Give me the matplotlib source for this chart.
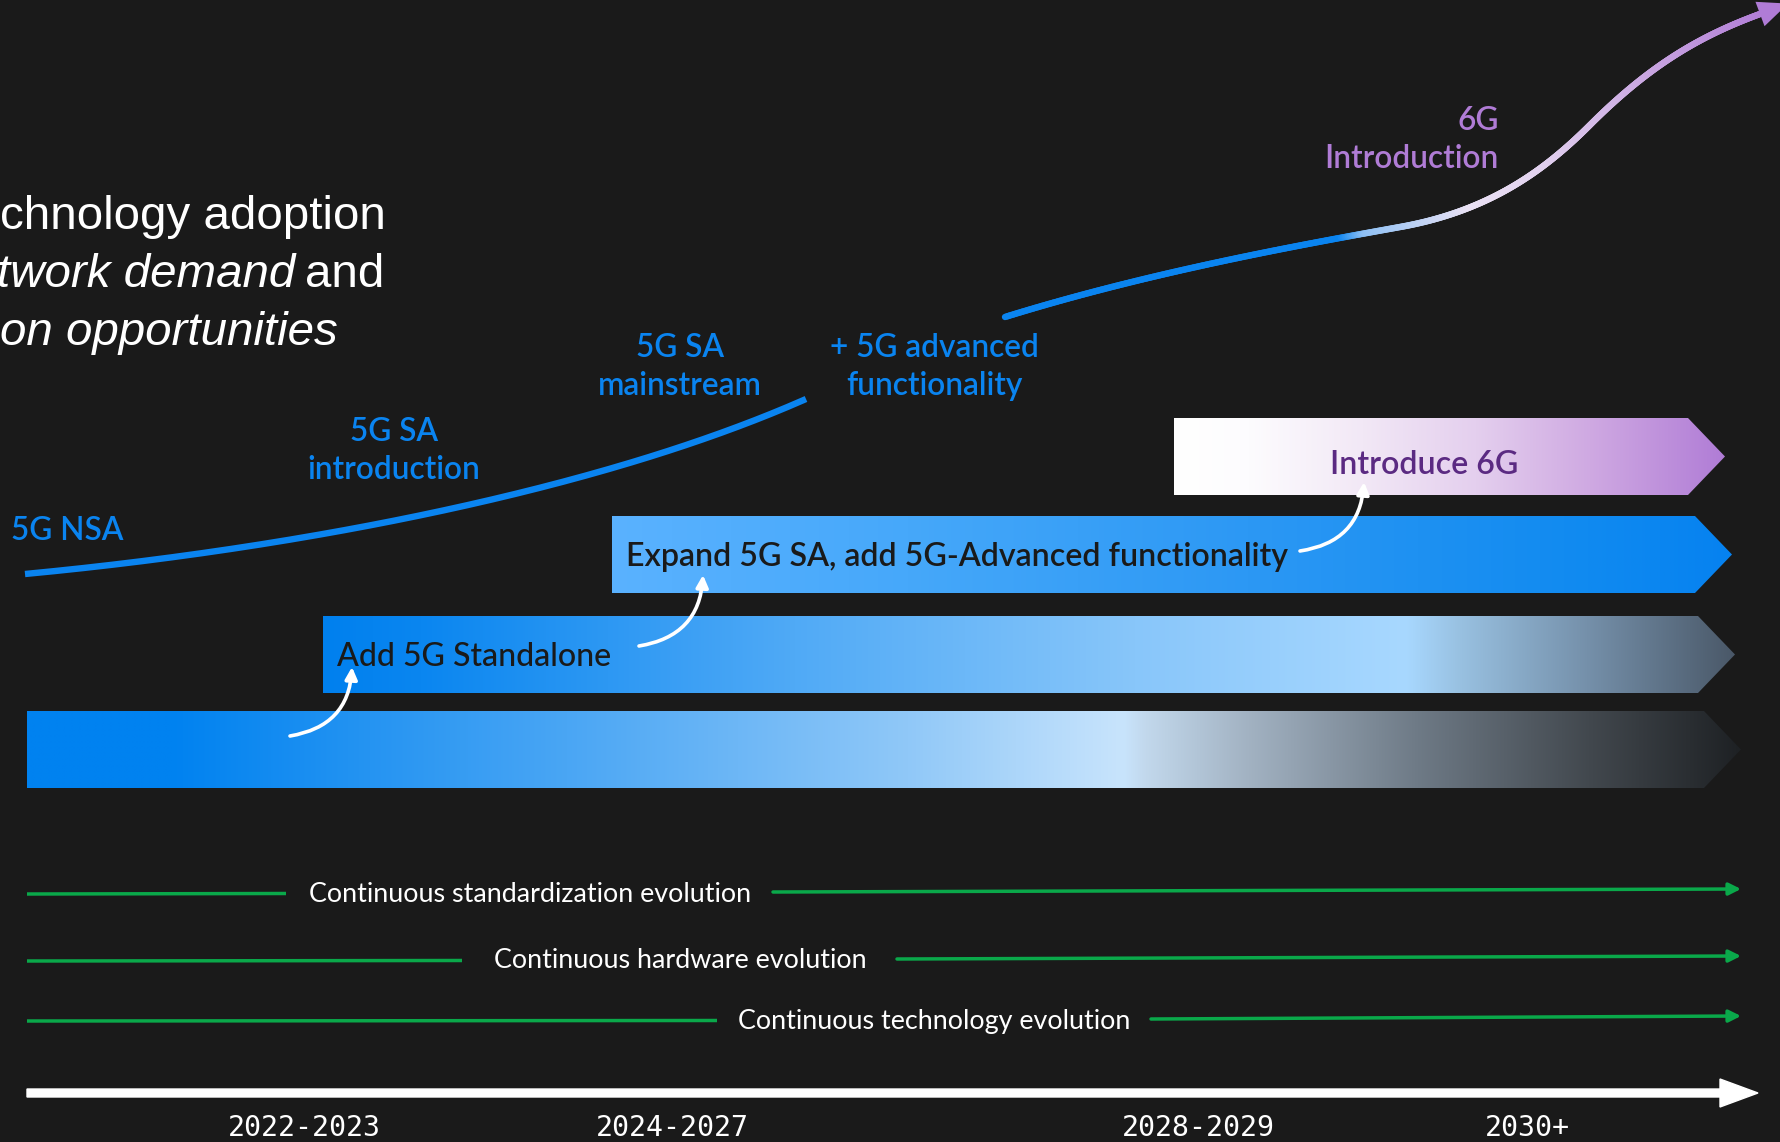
import matplotlib
matplotlib.use("Agg")
import matplotlib.pyplot as plt
import numpy as np
from matplotlib.patches import Polygon, FancyArrowPatch, FancyArrow
from matplotlib.collections import LineCollection
from matplotlib.colors import to_rgb
from matplotlib.bezier import BezierSegment

# ---------------- data ----------------
years = ["2022-2023", "2024-2027", "2028-2029", "2030+"]
year_x = [304, 672, 1198, 1527]

bar_labels = ["", "Add 5G Standalone", "Expand 5G SA, add 5G-Advanced functionality", "Introduce 6G"]
bar_start = [27, 323, 612, 1174]
bar_end = [1704, 1698, 1695, 1688]
bar_y = [749.5, 654.5, 554.5, 456.5]
bar_label_colors = ["#1a1a1a", "#1a1a1a", "#1a1a1a", "#5b2a82"]

# gradient stops (fraction along bar, colour)
bar_gradients = [
    [(0, "#0082f0"), (0.084, "#0082f0"), (0.315, "#4aa6f4"), (0.514, "#90c8f8"), (0.640, "#c8e4fc"),
     (0.653, "#c2d8ec"), (0.713, "#a2b2c2"), (0.812, "#6e7a86"), (0.912, "#42484e"), (1.0, "#1e2124")],
    [(0, "#0080ee"), (0.069, "#0a86f0"), (0.334, "#50aaf6"), (0.575, "#88c6fa"), (0.767, "#a8d8ff"),
     (0.807, "#98c0e0"), (0.896, "#7590aa"), (1.0, "#4a5868")],
    [(0, "#5ab2ff"), (0.264, "#46a8fa"), (0.568, "#2c98f4"), (0.872, "#108af0"), (1.0, "#0682f0")],
    [(0, "#ffffff"), (0.136, "#fdfcfe"), (0.342, "#f2e8f6"), (0.548, "#e4cfee"), (0.755, "#cfa9e2"), (1.0, "#b07cd6")],
]

# curved white arrows between bars (start, end)
hop_start = [(290, 736), (639, 646), (1300, 551)]
hop_end = [(352, 667), (703, 575), (1364, 482)]

evolution_labels = ["Continuous standardization evolution", "Continuous hardware evolution",
                    "Continuous technology evolution"]
evo_y = [893, 960, 1020]
evo_left_end = [286, 462, 717]
evo_text_x = [530, 680, 934]
evo_right_start = [773, 897, 1151]

stage_labels = ["5G NSA", "5G SA\nintroduction", "5G SA\nmainstream", "+ 5G advanced\nfunctionality"]
stage_xy = [(11, 531), (394, 451), (680, 367), (934, 367)]
sixg_label = "6G\nIntroduction"

nsa_curve = [(25, 574), (300, 548), (600, 490), (806, 399)]
sixg_curve = [[(1005, 317), (1150, 272), (1300, 245), (1400, 227)],
              [(1400, 227), (1490, 211), (1545, 170), (1590, 125)],
              [(1590, 125), (1650, 65), (1700, 36), (1760, 14)]]
sixg_curve_colors = [(1340, "#0a84f0"), (1365, "#8ec0f4"), (1470, "#eae2f4"), (1540, "#e2d2ef"),
                     (1650, "#c9a6e1"), (1770, "#b07cd6")]

# ---------------- figure ----------------
BG = "#1a1a1a"
W, H = 1781, 1142
fig = plt.figure(figsize=(W / 100, H / 100), dpi=100, facecolor=BG)
ax = fig.add_axes([0, 0, 1, 1])
ax.set_facecolor(BG)
ax.set_xlim(0, W)
ax.set_ylim(H, 0)
ax.axis("off")
renderer = fig.canvas.get_renderer()


def fit_size(s, width, **kw):
    t = ax.text(0, 0, s, fontsize=20, **kw)
    bb = t.get_window_extent(renderer)
    t.remove()
    return 20 * width / bb.width


def interp_colors(stops, xs):
    sx = [p[0] for p in stops]
    cols = np.array([to_rgb(p[1]) for p in stops])
    return np.stack([np.interp(xs, sx, cols[:, i]) for i in range(3)], axis=-1)


SANS = ["Lato", "DejaVu Sans"]
TIP = 37
BAR_H = 77

# bars
bar_fs = fit_size(bar_labels[2], 661, family=SANS, weight="semibold")
for i in range(len(bar_start)):
    x0, xr, yc = bar_start[i], bar_end[i], bar_y[i]
    xt = xr + TIP
    y0, y1 = yc - BAR_H / 2, yc + BAR_H / 2
    poly = Polygon([(x0, y0), (xr, y0), (xt, yc), (xr, y1), (x0, y1)], closed=True,
                   facecolor="none", edgecolor="none")
    ax.add_patch(poly)
    fr = np.linspace(0, 1, 800)
    img = interp_colors(bar_gradients[i], fr)[None, :, :]
    im = ax.imshow(img, extent=(x0, xt, y1, y0), aspect="auto", interpolation="bilinear", zorder=2)
    im.set_clip_path(poly)
    if bar_labels[i]:
        if i == 3:
            ax.text(1424, yc + 8, bar_labels[i], fontsize=bar_fs, family=SANS, weight="semibold",
                    color=bar_label_colors[i], ha="center", va="center", zorder=4)
        else:
            ax.text(x0 + 14, yc + 3, bar_labels[i], fontsize=bar_fs, family=SANS,
                    weight="semibold" if i == 2 else "medium",
                    color=bar_label_colors[i], ha="left", va="center", zorder=4)

ax.set_xlim(0, W)
ax.set_ylim(H, 0)

# hop arrows
for s, e in zip(hop_start, hop_end):
    ax.add_patch(FancyArrowPatch(s, e, connectionstyle="arc3,rad=0.4", arrowstyle="-|>",
                                 mutation_scale=18, lw=2.6, color="white", zorder=5,
                                 shrinkA=0, shrinkB=0))

# evolution lines
GREEN = "#0aa84a"
evo_fs = fit_size(evolution_labels[0], 443, family=SANS)
for i, lab in enumerate(evolution_labels):
    y = evo_y[i]
    ax.plot([27, evo_left_end[i]], [y + 1, y + 0.5], color=GREEN, lw=2.5, solid_capstyle="butt", zorder=3)
    ax.annotate("", xy=(1741, y - 4), xytext=(evo_right_start[i], y - 1),
                arrowprops=dict(arrowstyle="-|>", color=GREEN, lw=2.5, mutation_scale=18,
                                shrinkA=0, shrinkB=0), zorder=3)
    ax.text(evo_text_x[i], y + 1, lab, fontsize=evo_fs, family=SANS, color="white",
            ha="center", va="center", zorder=4)

# timeline
ax.add_patch(FancyArrow(27, 1093, 1731, 0, width=8, head_width=28, head_length=38,
                        length_includes_head=True, color="white", zorder=3))
yr_fs = fit_size(years[0], 153, family="DejaVu Sans Mono")
for lab, x in zip(years, year_x):
    ax.text(x, 1114, lab, fontsize=yr_fs, family="DejaVu Sans Mono", color="white",
            ha="center", va="top")

# curves
BLUE = "#0a84f0"
t = np.linspace(0, 1, 200)
pts = BezierSegment(np.array(nsa_curve, float))(t)
ax.plot(pts[:, 0], pts[:, 1], color=BLUE, lw=4.6, solid_capstyle="butt", zorder=3)

pts2 = np.vstack([BezierSegment(np.array(c, float))(t) for c in sixg_curve])
segs = np.stack([pts2[:-1], pts2[1:]], axis=1)
mids = (pts2[:-1, 0] + pts2[1:, 0]) / 2
cols = interp_colors(sixg_curve_colors, mids)
ax.add_collection(LineCollection(segs, colors=cols, linewidths=4.6, capstyle="round", zorder=3))
# purple arrowhead at the end of the 6G curve (partly cut by the edge)
end = pts2[-1]
dirv = pts2[-1] - pts2[-6]
dirv = dirv / np.hypot(*dirv)
nrm = np.array([-dirv[1], dirv[0]])
head_len, head_w = 30, 13
tip = end + dirv * head_len
ax.add_patch(Polygon([end + nrm * head_w, tip, end - nrm * head_w], closed=True,
                     facecolor="#b07cd6", edgecolor="none", zorder=4))

# stage labels
st_fs = fit_size("introduction", 173, family=SANS, weight="semibold")
for lab, (x, y) in zip(stage_labels, stage_xy):
    ha = "left" if "\n" not in lab else "center"
    ax.text(x, y, lab, fontsize=st_fs, family=SANS, weight="semibold", color=BLUE,
            ha=ha, va="center", multialignment="center", linespacing=1.32)
ax.text(1499, 140, sixg_label, fontsize=st_fs, family=SANS, weight="semibold", color="#b07cd6",
        ha="right", va="center", multialignment="right", linespacing=1.32)

# left statement text (clipped by left edge)
LS = ["Liberation Sans", "DejaVu Sans"]
lt_fs = fit_size("chnology adoption", 384, family=LS)
ax.text(0, 217, "chnology adoption", fontsize=lt_fs, family=LS, color="white", ha="left", va="center")
ax.text(-3, 275, "twork demand", fontsize=lt_fs, family=LS, style="italic", color="white",
        ha="left", va="center")
ax.text(384, 275, "and", fontsize=lt_fs, family=LS, color="white", ha="right", va="center")
ax.text(0, 333, "on opportunities", fontsize=lt_fs, family=LS, style="italic", color="white",
        ha="left", va="center")

fig.savefig("out.png", dpi=100, facecolor=BG)
